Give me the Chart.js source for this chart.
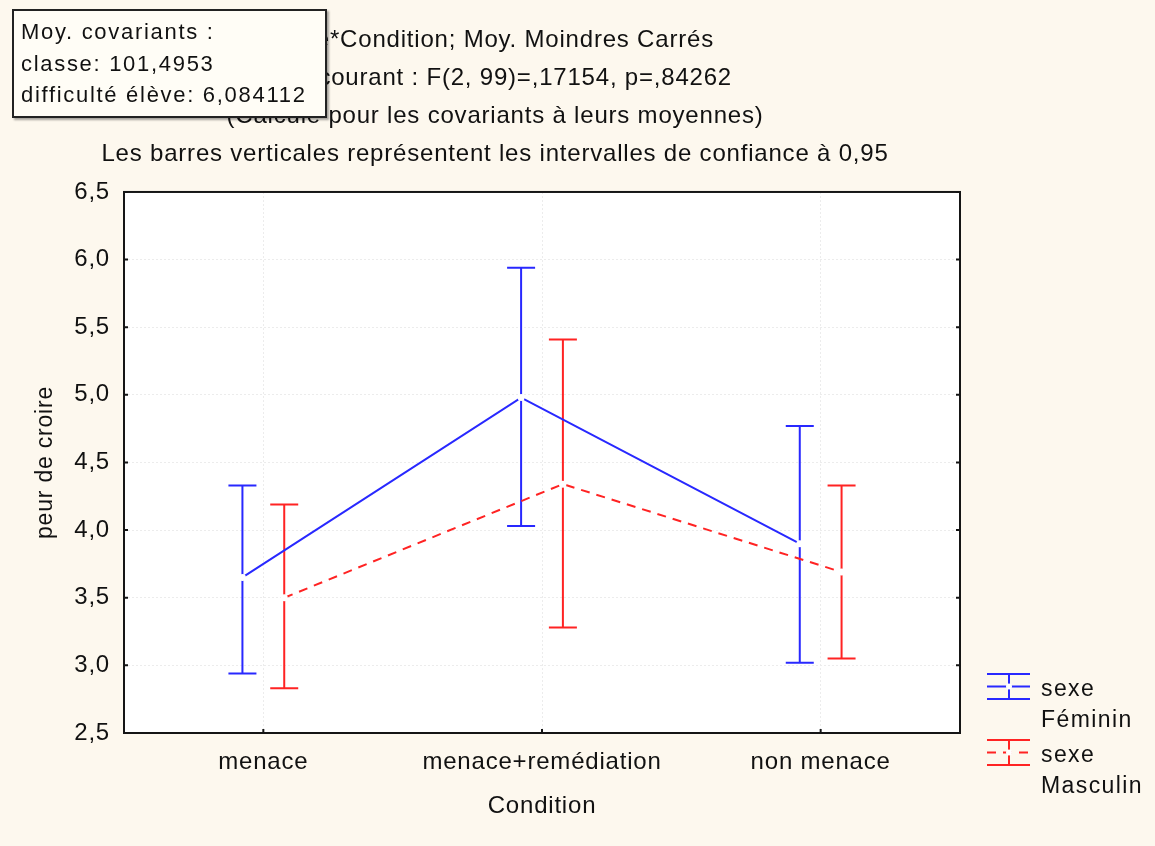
<!DOCTYPE html>
<html>
<head>
<meta charset="utf-8">
<script src="https://cdn.jsdelivr.net/npm/chart.js@4.4.1/dist/chart.umd.min.js"></script>
<style>
    body { margin: 0; background: #fdf8ee; font-family: "Liberation Sans", Arial, sans-serif; }
    #wrap { position: relative; width: 1155px; height: 846px; }
    #info {
        position: absolute; left: 12px; top: 9px; width: 304px; height: 100px;
        padding: 5px 0 0 7px; border: 2px solid #222; background: #fffdf6;
        box-shadow: 2px 2px 2px rgba(0,0,0,0.35);
        font-size: 22px; letter-spacing: 1.7px; line-height: 31.5px; color: #111;
        white-space: nowrap;
    }
</style>
</head>
<body>
<div id="wrap">
    <canvas id="chart" width="1155" height="846"></canvas>
    <div id="info">Moy. covariants :<br>classe: 101,4953<br>difficulté élève: 6,084112</div>
</div>
<script>
const conditions = ['menace', 'menace+remédiation', 'non menace'];

const femininMean = [3.65, 4.98, 3.90];
const femininLow = [2.94, 4.03, 3.02];
const femininHigh = [4.33, 5.94, 4.77];

const masculinMean = [3.50, 4.34, 3.69];
const masculinLow = [2.83, 3.28, 3.05];
const masculinHigh = [4.19, 5.41, 4.33];

const titleLines = [
    'sexe*Condition; Moy. Moindres Carrés',
    'Effet courant : F(2, 99)=,17154, p=,84262',
    '(Calculé pour les covariants à leurs moyennes)',
    'Les barres verticales représentent les intervalles de confiance à 0,95'
];

// décalage horizontal des deux groupes autour de chaque modalité
const shift = 0.075;
const BLUE = 'rgb(40,40,255)';
const RED = 'rgb(255,35,35)';
const FONT = '"Liberation Sans", Arial, sans-serif';
const SPACING = '0.8px';

const toPoints = (means, dx) => means.map((v, i) => ({ x: i + dx, y: v }));

// espacement des lettres, appliqué avant la mesure et le dessin
const spacing = {
    id: 'spacing',
    beforeInit(chart) { chart.ctx.letterSpacing = SPACING; },
    beforeUpdate(chart) { chart.ctx.letterSpacing = SPACING; },
    beforeDraw(chart) { chart.ctx.letterSpacing = SPACING; }
};

// barres d'erreur dessinées via les échelles
const errorBars = {
    id: 'errorBars',
    beforeDatasetsDraw(chart) {
        const ctx = chart.ctx;
        const xs = chart.scales.x, ys = chart.scales.y;
        chart.data.datasets.forEach(ds => {
            ctx.save();
            ctx.strokeStyle = ds.borderColor;
            ctx.lineWidth = 2;
            ds.data.forEach((p, i) => {
                const x = xs.getPixelForValue(p.x);
                const lo = ys.getPixelForValue(ds.low[i]);
                const hi = ys.getPixelForValue(ds.high[i]);
                ctx.beginPath();
                ctx.moveTo(x, lo); ctx.lineTo(x, hi);
                ctx.moveTo(x - 14, lo); ctx.lineTo(x + 14, lo);
                ctx.moveTo(x - 14, hi); ctx.lineTo(x + 14, hi);
                ctx.stroke();
            });
            ctx.restore();
        });
    }
};

const frame = {
    id: 'frame',
    beforeDraw(chart) {
        const a = chart.chartArea;
        chart.ctx.save();
        chart.ctx.fillStyle = '#ffffff';
        chart.ctx.fillRect(a.left, a.top, a.right - a.left, a.bottom - a.top);
        chart.ctx.restore();
    },
    afterDraw(chart) {
        const ctx = chart.ctx, a = chart.chartArea;
        ctx.save();
        ctx.strokeStyle = '#151515';
        ctx.lineWidth = 2;
        ctx.strokeRect(a.left, a.top, a.right - a.left, a.bottom - a.top);
        ctx.beginPath();
        chart.scales.y.ticks.forEach(t => {
            const y = chart.scales.y.getPixelForValue(t.value);
            ctx.moveTo(a.left, y); ctx.lineTo(a.left + 4, y);
            ctx.moveTo(a.right, y); ctx.lineTo(a.right - 4, y);
        });
        chart.scales.x.ticks.forEach(t => {
            const x = chart.scales.x.getPixelForValue(t.value);
            ctx.moveTo(x, a.bottom); ctx.lineTo(x, a.bottom - 4);
        });
        ctx.stroke();

        // légende
        const items = [
            { ds: chart.data.datasets[0], top: 674, names: ['sexe', 'Féminin'] },
            { ds: chart.data.datasets[1], top: 740, names: ['sexe', 'Masculin'] }
        ];
        items.forEach(it => {
            const x0 = 987, x1 = 1030, xm = 1009;
            const yb = it.top + 25, ym = it.top + 12.5;
            ctx.strokeStyle = it.ds.borderColor;
            ctx.lineWidth = 2;
            ctx.setLineDash([]);
            ctx.beginPath();
            ctx.moveTo(x0, it.top); ctx.lineTo(x1, it.top);
            ctx.moveTo(x0, yb); ctx.lineTo(x1, yb);
            ctx.moveTo(xm, it.top); ctx.lineTo(xm, yb);
            ctx.stroke();
            ctx.setLineDash(it.ds.borderDash || []);
            ctx.beginPath();
            ctx.moveTo(x0, ym); ctx.lineTo(x1, ym);
            ctx.stroke();
            ctx.setLineDash([]);
            ctx.fillStyle = '#fff';
            ctx.beginPath();
            ctx.arc(xm, ym, 3, 0, Math.PI * 2);
            ctx.fill();
            ctx.fillStyle = '#111';
            ctx.font = '23px ' + FONT;
            ctx.letterSpacing = '1.4px';
            ctx.textBaseline = 'middle';
            ctx.fillText(it.names[0], 1041, it.top + 16);
            ctx.fillText(it.names[1], 1041, it.top + 47);
        });
        ctx.restore();
    }
};

new Chart(document.getElementById('chart'), {
    type: 'line',
    data: {
        datasets: [
            {
                label: 'sexe Féminin',
                data: toPoints(femininMean, -shift),
                low: femininLow,
                high: femininHigh,
                borderColor: BLUE,
                borderWidth: 2,
                pointRadius: 3.5,
                pointBorderWidth: 0,
                pointBackgroundColor: '#ffffff'
            },
            {
                label: 'sexe Masculin',
                data: toPoints(masculinMean, shift),
                low: masculinLow,
                high: masculinHigh,
                borderColor: RED,
                borderWidth: 2,
                borderDash: [9, 7],
                pointRadius: 3.5,
                pointBorderWidth: 0,
                pointBackgroundColor: '#ffffff'
            }
        ]
    },
    options: {
        responsive: false,
        animation: false,
        devicePixelRatio: 1,
        layout: { padding: { left: 30, right: 195, top: 0, bottom: 0 } },
        plugins: {
            legend: { display: false },
            tooltip: { enabled: false },
            title: {
                display: true,
                text: titleLines,
                color: '#111',
                font: { family: FONT, size: 24, weight: 'normal', lineHeight: 1.583 },
                padding: { top: 21, bottom: 19 }
            }
        },
        scales: {
            x: {
                type: 'linear',
                min: -0.5,
                max: 2.5,
                afterBuildTicks: s => { s.ticks = conditions.map((c, i) => ({ value: i })); },
                afterFit: s => { s.height = 113; },
                ticks: {
                    color: '#111',
                    font: { family: FONT, size: 24 },
                    padding: 15,
                    maxRotation: 0,
                    callback: v => conditions[v]
                },
                grid: { color: '#ececec', drawTicks: false },
                border: { display: false, dash: [2, 2] },
                title: {
                    display: true,
                    text: 'Condition',
                    color: '#111',
                    font: { family: FONT, size: 24 },
                    padding: { top: 25, bottom: 25 }
                }
            },
            y: {
                min: 2.5,
                max: 6.5,
                afterFit: s => { s.width = 94; },
                ticks: {
                    stepSize: 0.5,
                    color: '#111',
                    font: { family: FONT, size: 24 },
                    padding: 14,
                    callback: v => v.toFixed(1).replace('.', ',')
                },
                grid: { color: '#ececec', drawTicks: false },
                border: { display: false, dash: [2, 2] },
                title: {
                    display: true,
                    text: 'peur de croire',
                    color: '#111',
                    font: { family: FONT, size: 23 },
                    padding: { top: 2, bottom: 2 }
                }
            }
        }
    },
    plugins: [spacing, errorBars, frame]
});
</script>
</body>
</html>
